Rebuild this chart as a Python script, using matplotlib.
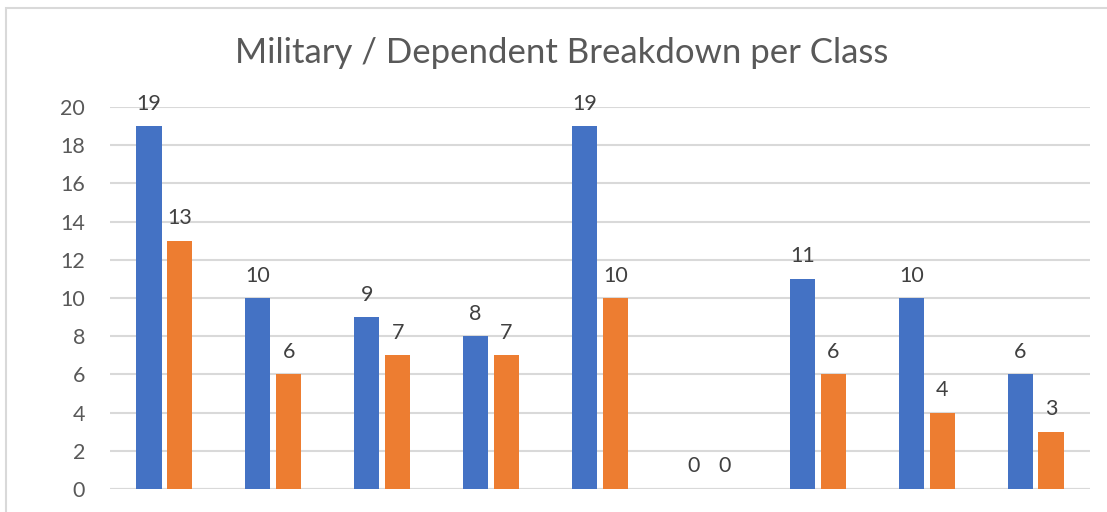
import numpy as np
import matplotlib
matplotlib.use("Agg")
import matplotlib.pyplot as plt
from matplotlib.patches import Rectangle

plt.rcParams['font.family'] = ['Lato', 'DejaVu Sans']

# Data (x labels are cut off in the source image)
classes = ['Class 1', 'Class 2', 'Class 3', 'Class 4', 'Class 5',
           'Class 6', 'Class 7', 'Class 8', 'Class 9']
military = [19, 10, 9, 8, 19, 0, 11, 10, 6]
dependent = [13, 6, 7, 7, 10, 0, 6, 4, 3]

blue = '#4472C4'
orange = '#ED7D31'
grid_c = '#D9D9D9'
text_c = '#595959'

fig = plt.figure(figsize=(11.07, 5.12), dpi=100)
ax = fig.add_axes([110 / 1107, 23 / 512, 980 / 1107, 382 / 512])

x = np.arange(len(classes))
w = 0.23
off = 0.142
b1 = ax.bar(x - off, military, w, color=blue, zorder=3)
b2 = ax.bar(x + off, dependent, w, color=orange, zorder=3)

for bars in (b1, b2):
    ax.bar_label(bars, padding=9, fontsize=15.5, color='#404040')

ax.set_xlim(-0.5, len(classes) - 0.5)
ax.set_ylim(0, 20)
ax.set_yticks(range(0, 21, 2))
ax.set_xticks([])
ax.yaxis.grid(True, color=grid_c, lw=1.5, zorder=0)
ax.tick_params(axis='y', length=0, pad=18, labelsize=15.5, labelcolor=text_c)
for s in ax.spines.values():
    s.set_visible(False)
ax.axhline(0, color=grid_c, lw=1.5, zorder=1)

fig.text(562 / 1107, 1 - 53 / 512, 'Military / Dependent Breakdown per Class',
         ha='center', va='center', fontsize=25, color=text_c)

# outer chart border (cut off at right and bottom)
fig.patches.append(Rectangle((6 / 1107, -0.1), 1.2, 1.1 - 8 / 512,
                             transform=fig.transFigure, fill=False,
                             edgecolor=grid_c, lw=1.5))

fig.savefig('out.png', dpi=100)
